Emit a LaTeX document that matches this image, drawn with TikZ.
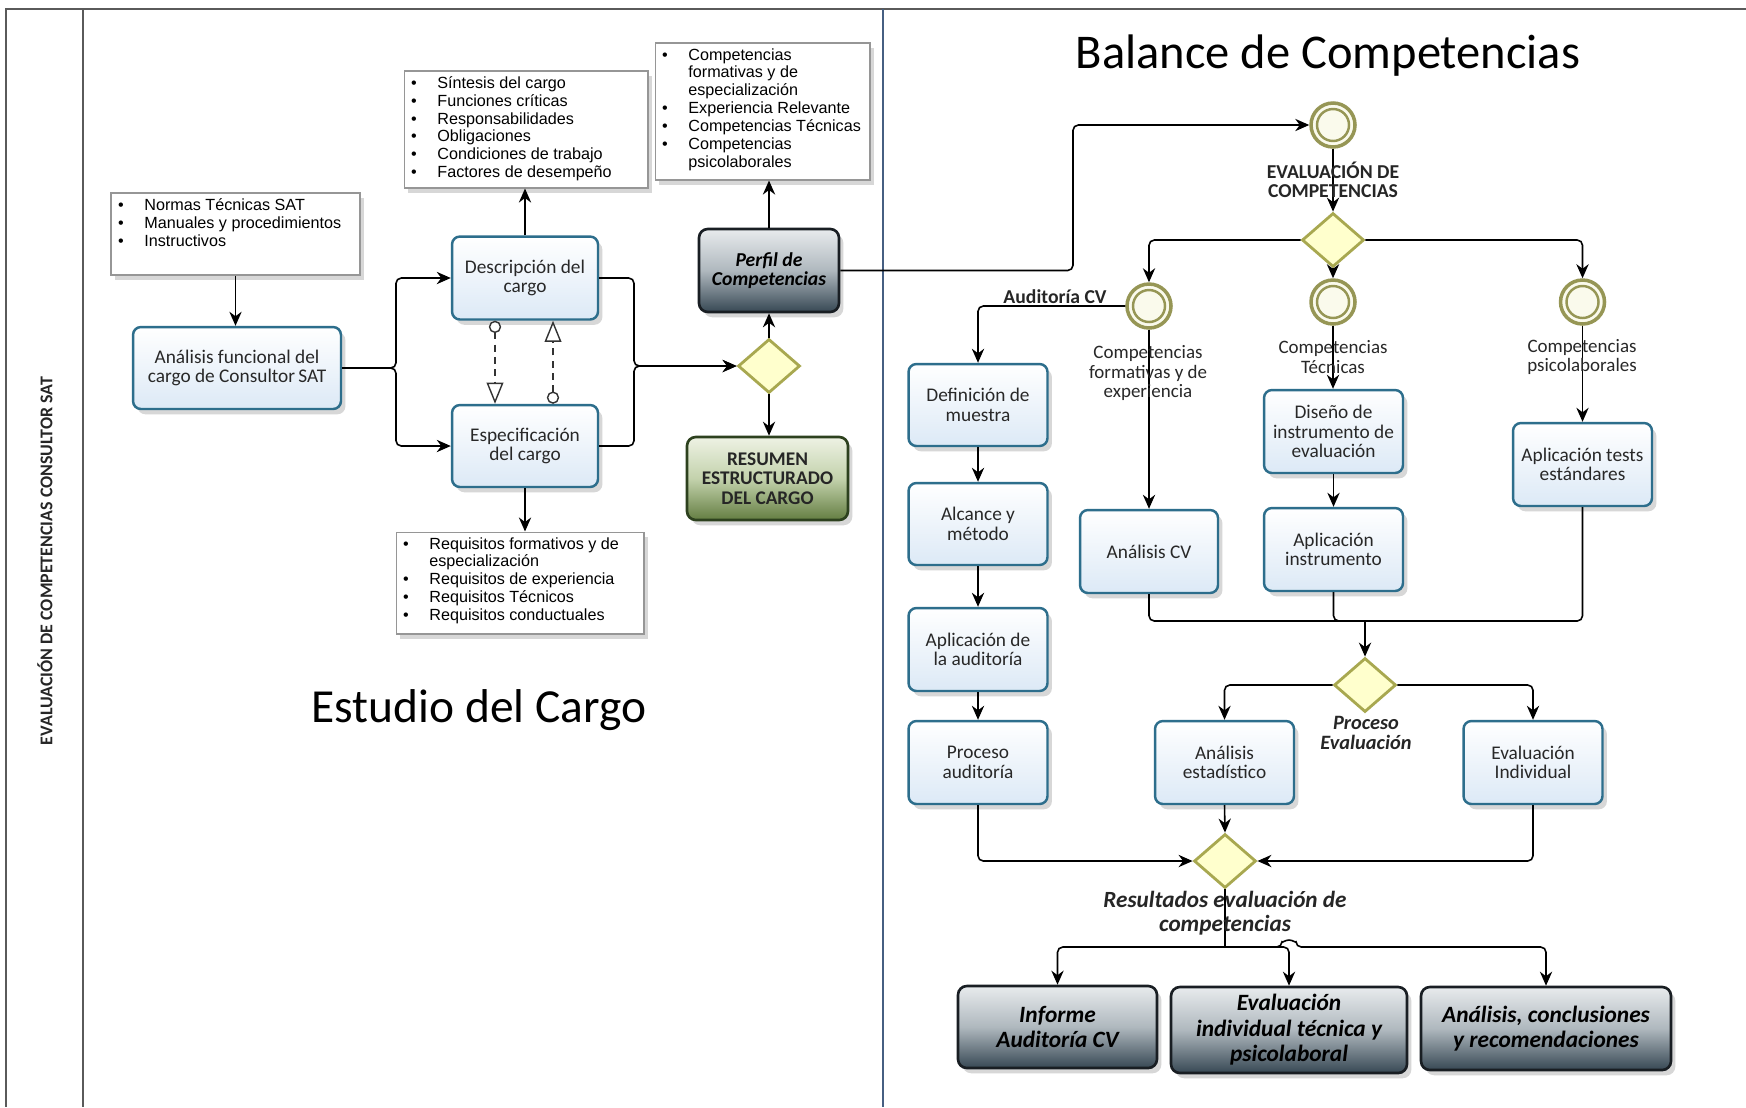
\documentclass[tikz,border=0pt]{standalone}
\usepackage{fontspec}
\setmainfont{Carlito}
\newfontfamily\arialf{Liberation Sans}
\usetikzlibrary{arrows.meta,shapes.geometric,shadows,calc}

\definecolor{taskb}{RGB}{45,110,140}
\definecolor{taskf}{RGB}{220,233,246}
\definecolor{noteb}{RGB}{150,150,150}
\definecolor{dkb}{RGB}{25,30,35}
\definecolor{dkf}{RGB}{55,72,84}
\definecolor{dkm}{RGB}{175,184,190}
\definecolor{ltf}{RGB}{232,235,237}
\definecolor{grb}{RGB}{45,65,30}
\definecolor{grf}{RGB}{100,126,66}
\definecolor{grm}{RGB}{195,210,172}
\definecolor{grl}{RGB}{238,242,228}
\definecolor{gwf}{RGB}{255,255,205}
\definecolor{gwb}{RGB}{168,168,80}
\definecolor{evb}{RGB}{150,150,85}
\definecolor{evf}{RGB}{250,250,236}
\definecolor{framec}{RGB}{90,90,90}
\definecolor{dividerc}{RGB}{70,95,130}
\definecolor{txt}{RGB}{40,40,40}

\newcommand{\bl}[1]{\makebox[15pt][l]{\textbullet}#1\par}
\newcommand{\cl}[1]{\hspace*{15pt}#1\par}
\newcommand{\notetext}[3]{\parbox[c][#2][t]{#1}{\vspace*{3pt}\raggedright\leftskip=4pt\parindent=0pt\parskip=0pt\arialf\fontsize{9.2}{10.2}\selectfont #3}}

\tikzset{
  shd/.style={drop shadow={shadow xshift=2.5pt, shadow yshift=-3pt, opacity=0.22, fill=black!70}},
  task/.style={rectangle, rounded corners=4.5pt, draw=taskb, line width=1.4pt, top color=white, bottom color=taskf, align=center, text=txt, font=\fontsize{11}{11.2}\selectfont, inner sep=2pt, shd},
  dark/.style={rectangle, rounded corners=5pt, draw=dkb, line width=1.5pt, top color=ltf, bottom color=dkf, middle color=dkm, align=center, text=black, inner sep=2pt, shd},
  green/.style={rectangle, rounded corners=5pt, draw=grb, line width=1.5pt, top color=grl, bottom color=grf, middle color=grm, align=center, text=black!85, font=\bfseries\fontsize{11}{11}\selectfont, inner sep=2pt, shd},
  note/.style={rectangle, draw=noteb, line width=0.6pt, fill=white, inner sep=0pt, shd},
  gate/.style={diamond, draw=gwb, fill=gwf, line width=1.6pt, minimum width=1.24cm, minimum height=1.08cm, inner sep=0pt},
  event/.style={circle, draw=evb, fill=evf, line width=2pt, minimum size=0.88cm, inner sep=0pt},
  conn/.style={draw=black, line width=0.9pt, -{Stealth[length=8pt,width=7pt]}, rounded corners=3pt},
  plain/.style={draw=black, line width=0.9pt, rounded corners=3pt},
  assoc/.style={draw=black!80, line width=0.8pt, dash pattern=on 4pt off 3pt, {Circle[open,length=7pt,width=7pt,fill=white]}-{Triangle[open,length=12pt,width=9.5pt,fill=white]}},
  lbl/.style={text=txt, align=center, font=\fontsize{10.8}{11.1}\selectfont},
  blbl/.style={text=black!85, align=center, font=\bfseries\fontsize{11.2}{11}\selectfont},
  bilbl/.style={text=black!85, align=center, font=\bfseries\itshape\fontsize{11.6}{11}\selectfont},
  outfont/.style={font=\bfseries\itshape\fontsize{13.3}{14.5}\selectfont},
}

\begin{document}
\begin{tikzpicture}[x=0.02cm, y=-0.02cm]
\path[use as bounding box, fill=white] (0,0) rectangle (1746,1107);

% frame
\draw[framec, line width=1.1pt] (1746,9) -- (6,9) -- (6,1107);
\draw[framec, line width=1.1pt] (83,9) -- (83,1107);
\draw[dividerc, line width=1.3pt] (883,9) -- (883,1107);
\node[rotate=90, font=\bfseries\fontsize{10.2}{10.5}\selectfont, text=black!85] (lane) at (45,561) {EVALUACIÓN DE COMPETENCIAS CONSULTOR SAT};

% titles
\node[font=\fontsize{27}{30}\selectfont] (titE) at (479,710) {Estudio del Cargo};
\node[font=\fontsize{27.6}{30}\selectfont] (titB) at (1328,56) {Balance de Competencias};

% ---------- Estudio del cargo ----------
\node[note, minimum width=4.98cm, minimum height=1.64cm] (noteA) at (235.5,234)
  {\notetext{4.98cm}{1.64cm}{\bl{Normas Técnicas SAT}\bl{Manuales y procedimientos}\bl{Instructivos}}};
\node[note, minimum width=4.88cm, minimum height=2.34cm] (noteS) at (526,129.5)
  {\notetext{4.88cm}{2.34cm}{\bl{Síntesis del cargo}\bl{Funciones críticas}\bl{Responsabilidades}\bl{Obligaciones}\bl{Condiciones de trabajo}\bl{Factores de desempeño}}};
\node[note, minimum width=4.30cm, minimum height=2.74cm] (noteC) at (762.5,111.5)
  {\notetext{4.30cm}{2.74cm}{\bl{Competencias}\cl{formativas y de}\cl{especialización}\bl{Experiencia Relevante}\bl{Competencias Técnicas}\bl{Competencias}\cl{psicolaborales}}};
\node[note, minimum width=4.96cm, minimum height=2.04cm] (noteR) at (520,583)
  {\notetext{4.96cm}{2.04cm}{\bl{Requisitos formativos y de}\cl{especialización}\bl{Requisitos de experiencia}\bl{Requisitos Técnicos}\bl{Requisitos conductuales}}};

\node[task, minimum width=4.16cm, minimum height=1.64cm] (ana) at (237,368) {Análisis funcional del\\cargo de Consultor\,SAT};
\node[task, minimum width=2.92cm, minimum height=1.66cm] (desc) at (525,278) {Descripción del\\cargo};
\node[task, minimum width=2.92cm, minimum height=1.64cm] (esp) at (525,446) {Especificación\\del cargo};
\node[dark, minimum width=2.80cm, minimum height=1.66cm, font=\bfseries\itshape\fontsize{11.2}{11.2}\selectfont] (perfil) at (769,270.5) {Perfil de\\Competencias};
\node[gate] (d1) at (769,366) {};
\node[green, minimum width=3.22cm, minimum height=1.66cm] (resumen) at (767.5,478.5) {RESUMEN\\ESTRUCTURADO\\DEL CARGO};

\draw[conn] (noteA.south) -- (noteA.south |- ana.north);
\draw[conn] (ana.east) -- (396,368) |- (desc.west);
\draw[conn] (ana.east) -- (396,368) |- (esp.west);
\draw[conn] (desc.north) -- (desc.north |- noteS.south);
\draw[conn] (esp.south) -- (esp.south |- noteR.north);
\draw[assoc] ($(desc.south)+(-30,0)$) -- ($(esp.north)+(-30,0)$);
\draw[assoc] ($(esp.north)+(28,0)$) -- ($(desc.south)+(28,0)$);
\draw[conn] (desc.east) -| (634,366) -- (d1.west);
\draw[conn] (esp.east) -| (634,366) -- (d1.west);
\draw[conn] (d1.north) -- (perfil.south);
\draw[conn] (d1.south) -- (d1.south |- resumen.north);
\draw[conn] (perfil.north) -- (perfil.north |- noteC.south);

% ---------- Balance de competencias ----------
\node[event] (c1) at (1333,125) {};
\node[gate] (d2) at (1333,240) {};
\node[event] (cA) at (1149,306) {};
\node[event] (cB) at (1333,302) {};
\node[event] (cC) at (1582.5,302) {};
\foreach \c in {c1,cA,cB,cC} \draw[evb, line width=1.4pt] (\c) circle (16);

\node[task, minimum width=2.78cm, minimum height=1.64cm] (def) at (978,405) {Definición de\\muestra};
\node[task, minimum width=2.78cm, minimum height=1.64cm] (alc) at (978,524) {Alcance y\\método};
\node[task, minimum width=2.78cm, minimum height=1.66cm] (aaud) at (978,649.5) {Aplicación de\\la auditoría};
\node[task, minimum width=2.78cm, minimum height=1.66cm] (paud) at (978,762.5) {Proceso\\auditoría};
\node[task, minimum width=2.76cm, minimum height=1.66cm] (acv) at (1149,551.5) {Análisis CV};
\node[task, minimum width=2.78cm, minimum height=1.66cm] (dis) at (1333.5,431.5) {Diseño de\\instrumento de\\evaluación};
\node[task, minimum width=2.78cm, minimum height=1.66cm] (ains) at (1333.5,549.5) {Aplicación\\instrumento};
\node[task, minimum width=2.78cm, minimum height=1.66cm] (tests) at (1582.5,464.5) {Aplicación tests\\estándares};
\node[gate] (d3) at (1365,685) {};
\node[task, minimum width=2.78cm, minimum height=1.66cm] (aest) at (1224.5,762.5) {Análisis\\estadístico};
\node[task, minimum width=2.78cm, minimum height=1.66cm] (eind) at (1533,762.5) {Evaluación\\Individual};
\node[gate] (d4) at (1225,861) {};
\node[dark, outfont, minimum width=3.98cm, minimum height=1.64cm] (out1) at (1057.5,1027) {Informe\\Auditoría CV};
\node[dark, outfont, minimum width=4.72cm, minimum height=1.72cm] (out2) at (1289,1030) {Evaluación\\individual técnica y\\psicolaboral};
\node[dark, outfont, minimum width=5.0cm, minimum height=1.66cm] (out3) at (1546,1028.5) {Análisis, conclusiones\\y recomendaciones};

\coordinate (m3) at (1365,621);
\coordinate (b4) at (1225,947);

\draw[conn] (perfil.east) -| (1073,125) -- (c1.west);
\draw[conn] (c1.south) -- (d2.north);
\draw[conn] (d2.west) -| (cA.north);
\draw[conn] (d2.south) -- (cB.north);
\draw[conn] (d2.east) -| (cC.north);
\draw[conn] (cA.west) -| (def.north);
\draw[conn] (cA.south) -- (acv.north);
\draw[conn] (cB.south) -- (cB.south |- dis.north);
\draw[conn] (cC.south) -- (tests.north);
\draw[conn] (def.south) -- (alc.north);
\draw[conn] (alc.south) -- (aaud.north);
\draw[conn] (aaud.south) -- (paud.north);
\draw[conn] (dis.south) -- (ains.north);
\draw[plain] (acv.south) |- (m3);
\draw[plain] (ains.south) |- (m3);
\draw[plain] (tests.south) |- (m3);
\draw[conn] (m3) -- (d3.north);
\draw[conn] (d3.west) -| (aest.north);
\draw[conn] (d3.east) -| (eind.north);
\draw[conn] (aest.south) -- (d4.north);
\draw[conn] (paud.south) |- (d4.west);
\draw[conn] (eind.south) |- (d4.east);
\draw[plain] (d4.south) -- (b4);
\draw[conn] (b4) -| (out1.north);
\draw[conn] (b4) -| (out2.north);
\draw[conn] (b4) -- ($(out2.north |- b4)+(-7,0)$) arc (180:360:7) -| (out3.north);

% labels
\node[blbl] (lEval) at (1333,180) {EVALUACIÓN DE\\COMPETENCIAS};
\node[blbl] (lAud) at (1055,297) {Auditoría CV};
\node[lbl] (lForm) at (1148,373) {Competencias\\formativas y de\\experiencia};
\node[lbl] (lTec) at (1333,357) {Competencias\\Técnicas};
\node[lbl] (lPsi) at (1582,357) {Competencias\\psicolaborales};
\node[bilbl] (lProc) at (1366,733) {Proceso\\Evaluación};
\node[bilbl, font=\bfseries\itshape\fontsize{13.2}{13.4}\selectfont] (lRes) at (1225,913) {Resultados evaluación de\\competencias};
\end{tikzpicture}
\end{document}
